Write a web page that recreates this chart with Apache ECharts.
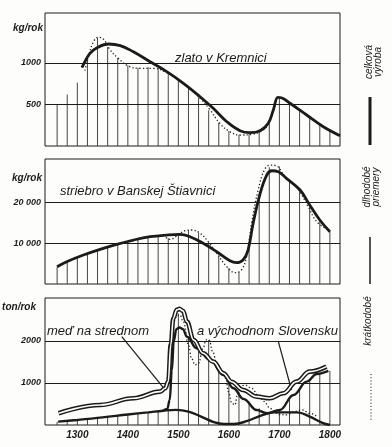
<!DOCTYPE html>
<html><head><meta charset="utf-8">
<script src="https://cdn.jsdelivr.net/npm/echarts@6/dist/echarts.min.js"></script>
<style>html,body{margin:0;padding:0;background:#fdfdfb}#c{width:392px;height:447px}</style>
</head><body><div id="c"></div>
<script>
// ---- data (years on x, production on y) ----
const hatchYears = [1260,1280,1300,1320,1340,1360,1380,1400,1420,1440,1460,1480,1500,1520,1540,1560,1580,1600,1620,1640,1660,1680,1700,1720,1740,1760,1780,1800];
const xTickLabels = [1300,1400,1500,1600,1700,1800];

// zlato v Kremnici (kg/rok)
const goldHatch = [500,620,760,1040,1300,1190,1060,970,940,950,935,880,800,700,580,430,280,180,135,145,200,300,585,520,430,340,260,190];
const goldLongYears = [1309,1315,1325,1339,1362,1385,1411,1444,1477,1510,1543,1569,1596,1622,1642,1662,1678,1688,1697,1704,1721,1754,1787,1820];
const goldLongValues = [942,1014,1115,1183,1227,1207,1134,1014,894,754,593,454,292,184,160,184,273,433,586,581,514,373,232,124];
const goldShortYears = [1315,1322,1332,1342,1352,1365,1381,1401,1424,1451,1477,1510,1543,1563,1582,1602,1622,1648,1668,1678,1688,1697,1704,1721,1754,1787,1820];
const goldShortValues = [906,1074,1255,1308,1284,1155,1055,962,935,935,882,754,574,433,273,172,132,144,192,265,425,580,575,510,375,235,126];
const goldTicks = [500,1000];

// striebro v Banskej Štiavnici (kg/rok)
const silverHatch = [4200,5500,6500,7450,8250,9050,9750,10400,10950,11450,11800,11200,12300,13150,12500,10200,6900,3900,3000,9000,22000,28500,28700,25200,23000,18900,15300,12900];
const silverLongYears = [1260,1279,1312,1345,1378,1411,1444,1477,1503,1523,1549,1576,1602,1615,1628,1638,1648,1662,1675,1685,1698,1714,1741,1760,1780,1800];
const silverLongValues = [4220,5440,7070,8460,9680,10730,11540,11950,12120,11540,9930,7880,5680,5200,5850,8290,14800,22120,26590,27630,27390,25780,22930,19270,15610,12760];
const silverShortYears = [1470,1484,1497,1513,1526,1543,1559,1576,1596,1612,1625,1635,1645,1658,1671,1683,1695,1711,1734,1757,1774,1797];
const silverShortValues = [11900,10900,11710,13000,13170,12370,10320,7490,4220,2760,3420,6660,14800,22930,27980,29020,28780,26170,23730,18850,15200,13170];
const silverTicks = [10000,20000];

// meď na strednom a východnom Slovensku (ton/rok)
const copperHatch = [80,100,125,150,170,195,220,245,270,295,320,380,2650,2100,1750,2020,1390,1070,790,560,400,300,360,640,870,1080,1230,1290];
const copperTotalYears = [1263,1345,1411,1464,1474,1480,1485,1490,1497,1502,1509,1517,1530,1549,1569,1589,1605,1628,1655,1681,1708,1734,1760,1793];
const copperTotalValues = [280,476,636,793,874,1031,1905,2540,2738,2762,2714,2460,2024,1707,1507,1231,1030,833,674,636,755,1031,1269,1388];
const copperCentralYears = [1470,1478,1483,1487,1491,1496,1502,1509,1517,1536,1563,1589,1609,1629,1655,1675,1701,1728,1754,1774,1797];
const copperCentralValues = [345,380,600,1300,2000,2280,2317,2280,2100,1826,1548,1190,874,620,357,279,357,714,1031,1214,1286];
const copperEastYears = [1262,1300,1350,1400,1440,1470,1495,1520,1545,1570,1590,1610,1635,1665,1690,1735,1760,1785,1800];
const copperEastValues = [80,120,180,250,300,340,360,320,200,70,25,25,90,230,300,300,200,50,0];
const copperShortYears = [1486,1490,1497,1503,1510,1520,1526,1533,1540,1549,1555,1561,1568,1576,1586,1594,1599,1606,1612,1617,1622,1632,1645,1658,1670,1680,1690,1700,1715,1730,1745,1760,1775];
const copperShortValues = [1900,2450,2600,2620,2450,1905,1588,1429,1469,1826,2024,2024,1745,1469,1310,1112,793,517,476,714,912,952,874,714,560,420,300,250,240,320,360,280,200];
const copperTicks = [1000,2000];

// ---- chart ----
const INK = '#1b1b1b';
const FONT = '"Liberation Sans", Arial, sans-serif';
const pair = (xs, ys) => xs.map((x, i) => [x, ys[i]]);

function gridLines(vals) {
  return {
    silent: true, symbol: ['none','none'], label: {show:false}, animation:false,
    lineStyle: {type:'solid', color: INK, width: 1},
    data: vals.map(v => ({yAxis: v}))
  };
}
function hatch(idx, vals, ticks) {
  return {type:'bar', xAxisIndex: idx, yAxisIndex: idx, barWidth: 1, data: pair(hatchYears, vals),
    itemStyle: {color: '#444'}, markLine: gridLines(ticks), z: 1};
}
function thick(idx, xs, ys, w, mono) {
  const s = {type:'line', xAxisIndex: idx, yAxisIndex: idx, data: pair(xs, ys), showSymbol:false,
    smooth: 0.4, lineStyle: {color: INK, width: w || 2.8}, z: 3};
  if (mono) s.smoothMonotone = 'x';
  return s;
}
function dotted(idx, xs, ys, mono) {
  const s = {type:'line', xAxisIndex: idx, yAxisIndex: idx, data: pair(xs, ys), showSymbol:false,
    smooth: 0.4, lineStyle: {color: '#222', width: 1.3, type: [1.3, 2.2]}, z: 2};
  if (mono) s.smoothMonotone = 'x';
  return s;
}
const labelStyle = {fontFamily: FONT, fontStyle:'italic', fontWeight:'bold', fontSize: 9, color: INK};

function xAxis(idx, show) {
  return {type:'value', gridIndex: idx, min: 1236, max: 1820,
    axisLine:{show:false}, axisTick:{show:false}, splitLine:{show:false},
    axisLabel: Object.assign({}, labelStyle, {show: show, customValues: xTickLabels, margin: 5, fontSize: 10,
      formatter: v => String(v)})};
}
function yAxis(idx, max, ticks, fmt) {
  return {type:'value', gridIndex: idx, min: 0, max: max,
    axisLine:{show:false}, axisTick:{show:false}, splitLine:{show:false},
    axisLabel: Object.assign({customValues: ticks, margin: 4, padding:[0,0,4,0], formatter: fmt}, labelStyle)};
}

const chart = echarts.init(document.getElementById('c'), null, {renderer:'canvas'});
const txt = (x, y, text, opt) => ({type:'text', x, y, silent:true, style: Object.assign({
  text, fill: INK, font: 'italic 13px ' + FONT, align:'left', verticalAlign:'middle'}, opt || {})});

chart.setOption({
  animation: false,
  backgroundColor: '#fdfdfb',
  grid: [
    {left:45, top:13, width:295, height:133, show:true, borderColor: INK, borderWidth:1, backgroundColor:'transparent'},
    {left:45, top:159, width:295, height:125, show:true, borderColor: INK, borderWidth:1, backgroundColor:'transparent'},
    {left:45, top:298, width:295, height:127, show:true, borderColor: INK, borderWidth:1, backgroundColor:'transparent'}
  ],
  xAxis: [xAxis(0,false), xAxis(1,false), xAxis(2,true)],
  yAxis: [
    yAxis(0, 1600, goldTicks, v => String(v)),
    yAxis(1, 30500, silverTicks, v => String(v / 1000) + ' 000'),
    yAxis(2, 3020, copperTicks, v => String(v))
  ],
  series: [
    hatch(0, goldHatch, goldTicks),
    dotted(0, goldShortYears, goldShortValues),
    thick(0, goldLongYears, goldLongValues),

    hatch(1, silverHatch, silverTicks),
    dotted(1, silverShortYears, silverShortValues),
    thick(1, silverLongYears, silverLongValues),

    hatch(2, copperHatch, copperTicks),
    dotted(2, copperShortYears, copperShortValues, true),
    Object.assign(thick(2, copperEastYears, copperEastValues, 2.4), {
      markLine: {silent:true, symbol:['none','none'], label:{show:false},
        lineStyle:{type:'solid', color: INK, width: 1.2},
        data: [
          [{coord:[1388, 2100]}, {coord:[1474, 833]}],
          [{coord:[1698, 1983]}, {coord:[1724, 833]}]
        ]}
    }),
    thick(2, copperCentralYears, copperCentralValues, 2.4, true),
    Object.assign(thick(2, copperTotalYears, copperTotalValues, 4.6, true), {z: 4}),
    Object.assign(thick(2, copperTotalYears, copperTotalValues, 1.6, true), {z: 5, lineStyle:{color:'#fdfdfb', width:1.6}})
  ],
  graphic: [
    txt(43, 28, 'kg/rok', {font:'italic bold 10px ' + FONT, align:'right'}),
    txt(42, 178, 'kg/rok', {font:'italic bold 10px ' + FONT, align:'right'}),
    txt(36, 307, 'ton/rok', {font:'italic bold 10px ' + FONT, align:'right'}),
    txt(175, 58, 'zlato v Kremnici'),
    txt(60, 191, 'striebro v Banskej Štiavnici'),
    txt(47, 331, 'meď na strednom'),
    txt(197, 331, 'a východnom Slovensku'),
    {type:'text', x:374, y:62, rotation: Math.PI/2, silent:true,
      style:{text:'celková\nvýroba', fill: INK, font:'italic 10px ' + FONT, lineHeight: 9, align:'center', verticalAlign:'middle'}},
    {type:'text', x:372, y:187, rotation: Math.PI/2, silent:true,
      style:{text:'dlhodobé\npriemery', fill: INK, font:'italic 10px ' + FONT, lineHeight: 9, align:'center', verticalAlign:'middle'}},
    {type:'text', x:368, y:321, rotation: Math.PI/2, silent:true,
      style:{text:'krátkodobé', fill: INK, font:'italic 10px ' + FONT, align:'center', verticalAlign:'middle'}},
    {type:'line', silent:true, shape:{x1:370, y1:97, x2:370, y2:145}, style:{stroke: INK, lineWidth: 3}},
    {type:'line', silent:true, shape:{x1:370, y1:237, x2:370, y2:284}, style:{stroke: INK, lineWidth: 1.5}},
    {type:'line', silent:true, shape:{x1:371, y1:374, x2:371, y2:422}, style:{stroke: '#333', lineWidth: 1.2, lineDash:[1,2.2]}}
  ]
});
</script>
</body></html>
